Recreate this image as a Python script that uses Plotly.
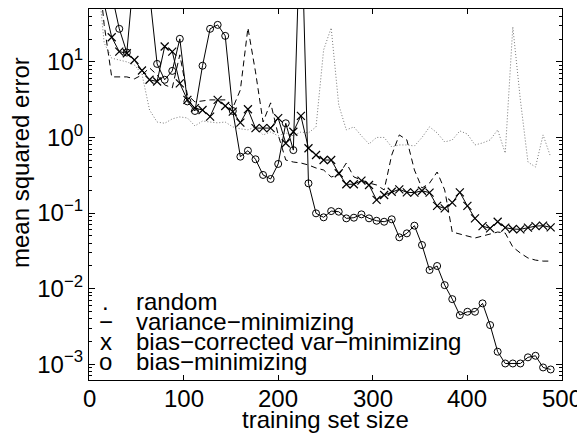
import plotly.graph_objects as go

train_size = [8, 16, 24, 32, 40, 48, 56, 64, 72, 80, 88, 96, 104, 112, 120, 128, 136, 144, 152, 160,
              168, 176, 184, 192, 200, 208, 216, 224, 232, 240, 248, 256, 264, 272, 280, 288, 296, 304, 312, 320,
              328, 336, 344, 352, 360, 368, 376, 384, 392, 400, 408, 416, 424, 432, 440, 448, 456, 464, 472, 480, 488]

random_mse = [200, 17.9, 11.2, 10.6, 10.0, 9.1, 6.9, 2.31, 1.60, 1.54,
              1.76, 1.87, 1.81, 1.42, 1.65, 1.60, 1.56, 1.60, 1.38, 1.30,
              1.26, 1.38, 1.08, 1.18, 1.05, 1.15, 1.05, 1.18, 1.15, 1.38,
              14.4, 28.2, 2.69, 1.26, 1.38, 1.05, 0.82, 1.0, 1.0, 0.748,
              0.796, 0.796, 0.771, 1.0, 1.38, 1.15, 0.871, 0.927, 1.22, 1.11,
              0.796, 0.845, 0.927, 1.26, 0.62, 29.1, 3.14, 0.473, 0.406, 1.08, 0.552]

varmin_mse = [300, 31.3, 6.33, 6.33, 6.33, 5.96, 6.73, 8.33, 6.73, 4.96,
              4.53, 12.4, 3.66, 2.95, 3.04, 3.14, 3.14, 3.14, 2.46, 4.26,
              28.2, 7.38, 1.60, 2.87, 1.08, 0.503, 0.473, 0.459, 0.432, 0.394,
              0.371, 0.30, 0.319, 0.459, 0.30, 0.273, 0.249, 0.235, 0.202, 0.586,
              1.08, 0.927, 0.371, 0.214, 0.249, 0.349, 0.202, 0.056, 0.0527, 0.0496,
              0.0467, 0.0496, 0.0527, 0.056, 0.0543, 0.0355, 0.0295, 0.0254, 0.0238, 0.0231, 0.0231]

biascorr_mse = [300, 59, 21.2, 13.7, 13.0, 10.6, 7.7, 5.8, 5.5, 16.0,
                13.7, 5.2, 3.14, 2.44, 2.31, 1.89, 3.14, 2.61, 2.2, 1.57,
                2.36, 1.33, 1.33, 1.33, 1.80, 0.838, 1.19, 1.93, 0.72, 0.586,
                0.503, 0.503, 0.336, 0.24, 0.24, 0.268, 0.235, 0.149, 0.173, 0.191,
                0.206, 0.188, 0.186, 0.197, 0.186, 0.124, 0.115, 0.137, 0.188, 0.124,
                0.085, 0.067, 0.0627, 0.0767, 0.064, 0.0614, 0.0608, 0.064, 0.067, 0.068, 0.0646]

biasmin_mse = [200, 150, 80, 27.4, 13.3, 176, 300, 81, 9.4, 5.8,
               7.6, 20.2, 3.0, 2.24, 8.9, 27.4, 30.9, 22.1, 2.24, 0.557,
               0.668, 0.514, 0.319, 0.282, 0.446, 1.54, 0.68, 1300, 0.247, 0.099,
               0.0877, 0.106, 0.104, 0.085, 0.0867, 0.096, 0.085, 0.079, 0.0767, 0.0826,
               0.0477, 0.0538, 0.068, 0.0377, 0.0176, 0.0199, 0.0111, 0.00725, 0.00445, 0.00493,
               0.00493, 0.00637, 0.00329, 0.00146, 0.00102, 0.00102, 0.00102, 0.00123, 0.00129, 0.000904, 0.00085]

x_ticks = [0, 100, 200, 300, 400, 500]
x_ticktext = ["0", "100", "200", "300", "400", "500"]
y_ticks = [1e-3, 1e-2, 1e-1, 1e0, 1e1]
y_ticktext = ["10<sup>\u22123</sup>", "10<sup>\u22122</sup>", "10<sup>\u22121</sup>", "10<sup>0</sup>", "10<sup>1</sup>"]

legend_symbols = [".", "\u2212", "x", "o"]
legend_labels = ["random", "variance\u2212minimizing", "bias\u2212corrected var\u2212minimizing", "bias\u2212minimizing"]

FONT = "Liberation Sans, Arial, Helvetica, sans-serif"
# The page body has an 8 px margin, so the figure is drawn 8 px right and down.
# Plot area on screen: x 89..562, y 9..380  ->  in figure coords x 81..554, y 1..372
TOP, BOTTOM = 9.0, 380.0


def paper_y(py):
    return 1 - (py - TOP) / (BOTTOM - TOP)


fig = go.Figure()
fig.add_trace(go.Scatter(x=train_size, y=random_mse, mode="lines",
                         line=dict(color="#777777", width=1, dash="1px,2px")))
fig.add_trace(go.Scatter(x=train_size, y=varmin_mse, mode="lines",
                         line=dict(color="black", width=1, dash="6px,4px")))
fig.add_trace(go.Scatter(x=train_size, y=biascorr_mse, mode="lines+markers",
                         line=dict(color="black", width=1),
                         marker=dict(symbol="x-thin-open", size=8, color="black",
                                     line=dict(color="black", width=1.2))))
fig.add_trace(go.Scatter(x=train_size, y=biasmin_mse, mode="lines+markers",
                         line=dict(color="black", width=1),
                         marker=dict(symbol="circle-open", size=7, color="black",
                                     line=dict(color="black", width=1))))

minor_vals = []
for e in range(-4, 2):
    for m in range(2, 10):
        minor_vals.append(m * 10.0 ** e)

annotations = []
row_y = [301.7, 321.7, 341.7, 361.7]
for sym, lab, yy in zip(legend_symbols, legend_labels, row_y):
    annotations.append(dict(x=17.5, y=paper_y(yy), xref="x", yref="paper", text=sym, showarrow=False,
                            xanchor="center", yanchor="middle",
                            font=dict(family=FONT, size=24, color="black")))
    annotations.append(dict(x=48, y=paper_y(yy), xref="x", yref="paper", text=lab, showarrow=False,
                            xanchor="left", yanchor="middle",
                            font=dict(family=FONT, size=24, color="black")))

for xv, xt in zip(x_ticks, x_ticktext):
    annotations.append(dict(x=xv, y=paper_y(398), xref="x", yref="paper", text=xt, showarrow=False,
                            xanchor="center", yanchor="middle",
                            font=dict(family=FONT, size=24, color="black")))

annotations.append(dict(x=-69 / 473.0, y=paper_y(163), xref="paper", yref="paper",
                        text="mean squared error", textangle=-90, showarrow=False,
                        xanchor="center", yanchor="middle",
                        font=dict(family=FONT, size=24, color="black")))
annotations.append(dict(x=0.5, y=paper_y(419), xref="paper", yref="paper",
                        text="training set size", showarrow=False,
                        xanchor="center", yanchor="middle",
                        font=dict(family=FONT, size=24, color="black")))

fig.update_layout(
    width=577, height=425,
    margin=dict(l=81, r=23, t=1, b=53),
    paper_bgcolor="white", plot_bgcolor="white",
    showlegend=False,
    font=dict(family=FONT, size=24, color="black"),
    annotations=annotations,
)
fig.update_xaxes(range=[0, 500], tickvals=x_ticks, ticks="inside", ticklen=5, tickwidth=1,
                 tickcolor="black", mirror="ticks", showline=True, linecolor="black", linewidth=1.2,
                 showgrid=False, zeroline=False, showticklabels=False)
fig.update_yaxes(type="log", range=[-3.21, 1.70], tickvals=y_ticks, ticktext=y_ticktext,
                 ticks="inside", ticklen=6, tickwidth=1, tickcolor="black",
                 minor=dict(tickvals=minor_vals, ticks="inside", ticklen=3, tickcolor="black", showgrid=False),
                 mirror="ticks", showline=True, linecolor="black", linewidth=1.2,
                 showgrid=False, zeroline=False,
                 tickfont=dict(family=FONT, size=24, color="black"))

fig.write_html("out.html")
